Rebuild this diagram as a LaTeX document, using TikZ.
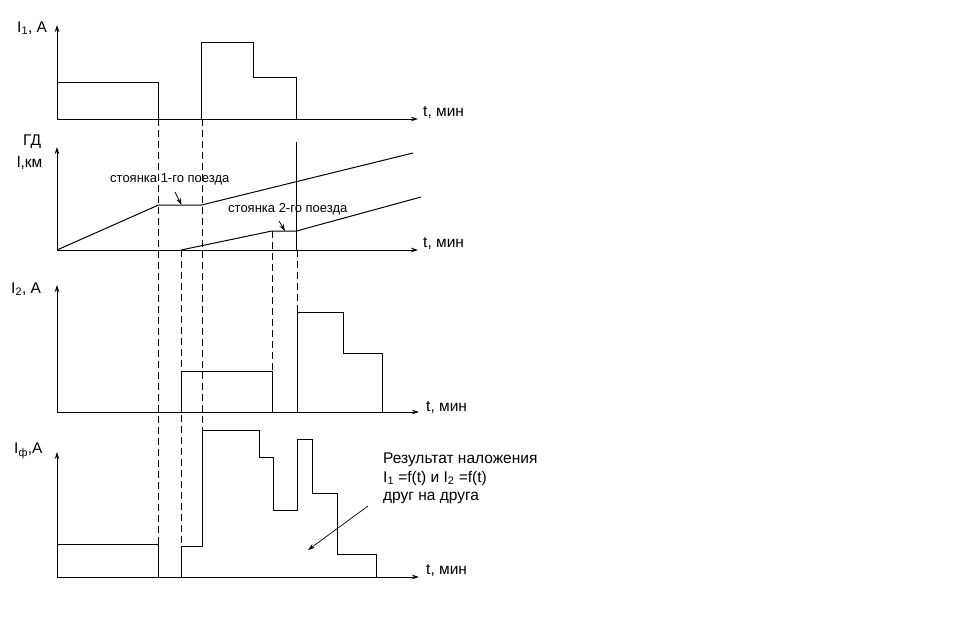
\documentclass[tikz,border=0pt]{standalone}
\usepackage{fontspec}
\setmainfont{Liberation Sans}
\usetikzlibrary{arrows.meta}
\tikzset{
  axis/.style={-{Stealth[length=7pt,width=4.5pt]}, line width=0.9pt},
  curve/.style={line width=1pt},
  guide/.style={line width=0.9pt, dash pattern=on 7pt off 4pt},
  pointer/.style={-{Stealth[length=7pt,width=4.5pt]}, line width=0.7pt},
  lbl/.style={font=\fontsize{15.5}{18.5}\selectfont, inner sep=0pt, anchor=west},
  note/.style={font=\fontsize{13}{15}\selectfont, inner sep=0pt, anchor=west},
}
\begin{document}
\begin{tikzpicture}[x=1pt,y=-1pt]
    \useasboundingbox[fill=white] (0,0) rectangle (962,630);

    % Current of the first train
    \draw[axis] (57,119) -- (57,25);
    \draw[axis] (57,119) -- (418,119);
    \node[lbl] (i1) at (17,28) {I\textsubscript{1}, A};
    \node[lbl] (t1) at (423,112) {t, мин};
    \draw[curve] (57,82) -- (158.5,82) -- (158.5,119);
    \draw[curve] (201.5,119) -- (201.5,42) -- (253,42) -- (253,77) -- (296.5,77) -- (296.5,119);

    % Train graph
    \draw[axis] (57,250) -- (57,147);
    \draw[axis] (57,250) -- (418,250);
    \node[lbl] (gd) at (23,142) {ГД};
    \node[lbl] (lkm) at (17,163) {l,км};
    \node[lbl] (t2) at (423,243) {t, мин};
    \draw[curve] (57,250) -- (158.5,205) -- (201.5,205) -- (413,153);
    \draw[curve] (181,250) -- (272,231) -- (296.5,231) -- (421,197);
    \draw[curve] (296.5,142) -- (296.5,250);

    % Stops
    \node[note] (stop1) at (110,179) {стоянка 1-го поезда};
    \coordinate (stop1tip) at (181.5,205);
    \draw[pointer] (175,192) -- (stop1tip);
    \node[note] (stop2) at (228,209) {стоянка 2-го поезда};
    \coordinate (stop2tip) at (285,231);
    \draw[pointer] (279,221) -- (stop2tip);

    % Current of the second train
    \draw[axis] (57,412) -- (57,285);
    \draw[axis] (57,412) -- (419,412);
    \node[lbl] (i2) at (11,289) {I\textsubscript{2}, A};
    \node[lbl] (t3) at (426,407) {t, мин};
    \draw[curve] (181,412) -- (181,371) -- (272,371) -- (272,412);
    \draw[curve] (297,412) -- (297,312) -- (343,312) -- (343,353) -- (382,353) -- (382,412);

    % Resulting current
    \draw[axis] (57,577) -- (57,452);
    \draw[axis] (57,577) -- (419,577);
    \node[lbl] (iph) at (14,451) {I\textsubscript{ф},A};
    \node[lbl] (t4) at (426,570) {t, мин};
    \draw[curve] (57,544) -- (158.5,544) -- (158.5,577);
    \draw[curve] (181,577) -- (181,546) -- (202,546) -- (202,430) -- (259,430) -- (259,457)
        -- (273,457) -- (273,510) -- (297,510) -- (297,439) -- (312.5,439) -- (312.5,493)
        -- (337.5,493) -- (337.5,554) -- (376,554) -- (376,577);

    % Result note
    \node[lbl, align=left] (result) at (383,478.5)
        {Результат наложения\\I\textsubscript{1} =f(t) и I\textsubscript{2} =f(t)\\друг на друга};
    \coordinate (resulttip) at (308,550);
    \draw[pointer] (368,506) -- (resulttip);

    % Guide lines
    \draw[guide] (158.5,119) -- (158.5,544);
    \draw[guide] (181,250) -- (181,546);
    \draw[guide] (202,119) -- (202,430);
    \draw[guide] (272,231) -- (272,371);
    \draw[guide] (297,250) -- (297,312);
\end{tikzpicture}
\end{document}
